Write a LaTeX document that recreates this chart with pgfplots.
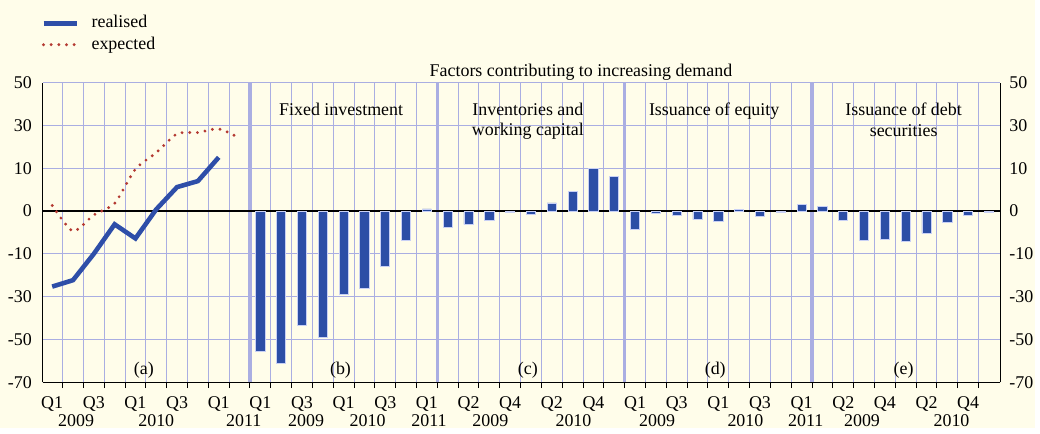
\documentclass[border=0pt]{standalone}
\usepackage{fontspec}
\setmainfont{Liberation Serif}
\usepackage{pgfplots}
\usepackage{pgfplotstable}
\pgfplotsset{compat=1.18}

\definecolor{bg}{RGB}{255,253,234}
\definecolor{gridc}{RGB}{170,174,226}
\definecolor{barc}{RGB}{44,78,166}
\definecolor{baredge}{RGB}{200,208,245}
\definecolor{linec}{RGB}{46,78,168}
\definecolor{expc}{RGB}{180,58,50}

\newcommand{\f}{\fontsize{9}{10.4}\selectfont}

% i = quarter slot on the x axis, v = net percentage
\pgfplotstableread{
i v
0 -25.3
1 -22.3
2 -10.0
3 -3.1
4 -6.4
5 0.4
6 5.6
7 7.0
8 15.1
}\realised

\pgfplotstableread{
i v
0 1.3
1 -4.7
2 -0.9
3 1.8
4 9.8
5 17.3
6 26.1
7 26.7
8 28.4
9 24.1
}\expected

% fixed investment
\pgfplotstableread{
i v
10 -55.4
11 -61.0
12 -43.5
13 -48.9
14 -28.8
15 -26.1
16 -15.9
17 -6.8
18 0.5
}\fixedinv

% inventories and working capital
\pgfplotstableread{
i v
19 -3.9
20 -3.1
21 -2.3
22 -0.4
23 -0.8
24 1.9
25 4.5
26 9.9
27 8.0
}\inventories

% issuance of equity
\pgfplotstableread{
i v
28 -4.4
29 -0.5
30 -0.9
31 -2.0
32 -2.5
33 0.4
34 -1.2
35 -0.2
36 1.5
}\equity

% issuance of debt securities
\pgfplotstableread{
i v
37 1.1
38 -2.1
39 -6.8
40 -6.6
41 -7.0
42 -5.2
43 -2.6
44 -1.1
45 -0.3
}\debt

\begin{document}
\begin{tikzpicture}
\fill[bg] (-21.5pt,-23pt) rectangle (498.5pt,192pt);
\begin{axis}[
    at={(0,0)}, anchor=south west,
    scale only axis, width=481pt, height=150.5pt,
    clip=false,
    declare function={tr(\v)=max(min(\v,10),-10)/10+(max(\v-10,0)+min(\v+10,0))/20;},
    xmin=-0.45, xmax=45.55, ymin=-4, ymax=3,
    axis x line*=bottom, axis y line*=left,
    axis line style={black, -, line width=0.6pt},
    ytick={-4,-3,...,3},
    yticklabels={-70,-50,-30,-10,0,10,30,50},
    xtick={0,2,...,44},
    xticklabels={Q1,Q3,Q1,Q3,Q1,Q1,Q3,Q1,Q3,Q1,Q2,Q4,Q2,Q4,Q1,Q3,Q1,Q3,Q1,Q2,Q4,Q2,Q4},
    minor xtick={0.5,1.5,...,44.5},
    ymajorgrids, xminorgrids,
    major grid style={gridc, line width=0.5pt},
    minor grid style={gridc, line width=0.5pt},
    tick align=outside,
    major tick length=0pt, minor tick length=3pt,
    minor tick style={black, line width=0.5pt},
    xticklabel style={font=\f, yshift=-3.5pt},
    yticklabel style={font=\f, xshift=-2pt},
    extra x ticks={9.5,18.5,27.5,36.5},
    extra x tick labels={},
    extra x tick style={grid=major, major grid style={gridc, line width=1.6pt}},
    extra y ticks={0},
    extra y tick labels={},
    extra y tick style={grid=major, major grid style={black, line width=0.6pt}},
    legend style={at={(axis description cs:0,1)}, anchor=south west,
        xshift=-4pt, yshift=11pt, draw=none, fill=none, font=\f,
        row sep=-1pt, nodes={inner sep=2pt}},
    legend cell align=left,
    legend image code/.code={\draw[#1] (0pt,0pt) -- (17pt,0pt);},
    /tikz/every odd column/.append style={column sep=4pt},
    /tikz/every even column/.append style={column sep=-3.5pt},
]
\addplot[linec, line width=2.3pt] table[x=i, y expr={tr(\thisrow{v})}] {\realised};
\addlegendentry{realised}
\addplot[expc, line width=1.6pt, line cap=round, dash pattern=on 0pt off 3.85pt, smooth, tension=0.4]
    table[x=i, y expr={tr(\thisrow{v})}] {\expected};
\addlegendentry{expected}

\addplot[ybar, bar width=4.6pt, bar shift=0pt, fill=barc, draw=baredge, line width=0.4pt, forget plot]
    table[x=i, y expr={tr(\thisrow{v})}] {\fixedinv};
\addplot[ybar, bar width=4.6pt, bar shift=0pt, fill=barc, draw=baredge, line width=0.4pt, forget plot]
    table[x=i, y expr={tr(\thisrow{v})}] {\inventories};
\addplot[ybar, bar width=4.6pt, bar shift=0pt, fill=barc, draw=baredge, line width=0.4pt, forget plot]
    table[x=i, y expr={tr(\thisrow{v})}] {\equity};
\addplot[ybar, bar width=4.6pt, bar shift=0pt, fill=barc, draw=baredge, line width=0.4pt, forget plot]
    table[x=i, y expr={tr(\thisrow{v})}] {\debt};

% titles
\node[font=\f, anchor=base, yshift=2.85pt] at (axis cs:25.4,3) {Factors contributing to increasing demand};
\node[font=\f, anchor=north, inner sep=0pt] at (axis cs:13.88,2.54) {Fixed investment};
\node[font=\f, anchor=north, inner sep=0pt, align=center] at (axis cs:22.85,2.54) {Inventories and\\working capital};
\node[font=\f, anchor=north, inner sep=0pt] at (axis cs:31.8,2.54) {Issuance of equity};
\node[font=\f, anchor=north, inner sep=0pt, align=center] at (axis cs:40.9,2.54) {Issuance of debt\\securities};

% panel letters
\node[font=\f] at (axis cs:4.4,-3.72) {(a)};
\node[font=\f] at (axis cs:13.85,-3.72) {(b)};
\node[font=\f] at (axis cs:22.85,-3.72) {(c)};
\node[font=\f] at (axis cs:31.85,-3.72) {(d)};
\node[font=\f] at (axis cs:40.9,-3.72) {(e)};

% years
\node[font=\f, yshift=-19.5pt] at (axis cs:1.15,-4) {2009};
\node[font=\f, yshift=-19.5pt] at (axis cs:5.0,-4) {2010};
\node[font=\f, yshift=-19.5pt] at (axis cs:9.2,-4) {2011};
\node[font=\f, yshift=-19.5pt] at (axis cs:12.2,-4) {2009};
\node[font=\f, yshift=-19.5pt] at (axis cs:15.15,-4) {2010};
\node[font=\f, yshift=-19.5pt] at (axis cs:18.1,-4) {2011};
\node[font=\f, yshift=-19.5pt] at (axis cs:21.05,-4) {2009};
\node[font=\f, yshift=-19.5pt] at (axis cs:25.04,-4) {2010};
\node[font=\f, yshift=-19.5pt] at (axis cs:29.06,-4) {2009};
\node[font=\f, yshift=-19.5pt] at (axis cs:33.3,-4) {2010};
\node[font=\f, yshift=-19.5pt] at (axis cs:36.2,-4) {2011};
\node[font=\f, yshift=-19.5pt] at (axis cs:38.9,-4) {2009};
\node[font=\f, yshift=-19.5pt] at (axis cs:43.2,-4) {2010};
\end{axis}

\begin{axis}[
    at={(0,0)}, anchor=south west,
    scale only axis, width=481pt, height=150.5pt,
    xmin=-0.45, xmax=45.55, ymin=-4, ymax=3,
    axis x line=none, axis y line*=right,
    axis line style={black, -, line width=0.6pt},
    ytick={-4,-3,...,3},
    yticklabels={-70,-50,-30,-10,0,10,30,50},
    major tick length=0pt,
    yticklabel style={font=\f, xshift=1pt},
]
\end{axis}
\end{tikzpicture}
\end{document}
